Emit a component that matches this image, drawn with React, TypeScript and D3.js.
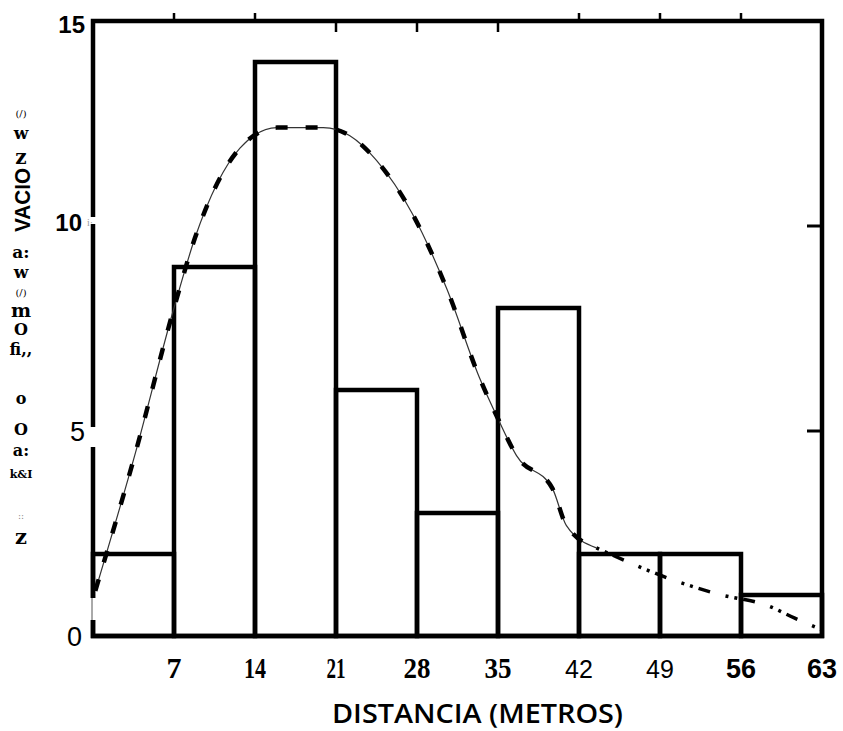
import React from "react";
import * as d3 from "d3";

// histogram: number of observations per 7 m distance class
const binStarts = [0, 7, 14, 21, 28, 35, 42, 49, 56];
const binWidth = 7;
const counts = [2, 9, 14, 6, 3, 8, 2, 2, 1];

// dashed fitted curve
const curveX = [0.2, 3.6, 7, 8.8, 12.7, 15.9, 19.9, 22.2, 24.5, 27.6, 30.6, 33.4, 35, 36.6, 39.7, 40.9, 43.5];
const curveY = [1.1, 4.4, 8.0, 9.7, 11.9, 12.4, 12.4, 12.2, 11.6, 10.3, 8.45, 6.3, 5.3, 4.4, 3.6, 2.7, 2.15];
// dotted tail of the curve
const tailX = [43.5, 50.1, 53.9, 58.4, 60.6, 63];
const tailY = [2.15, 1.37, 1.03, 0.73, 0.44, 0.15];

const xTicks = [7, 14, 21, 28, 35, 42, 49, 56, 63];
const yTicks = [0, 5, 10, 15];
const topTicksUp = [7, 14, 42, 49, 56];
const topTicksDown = [21, 28, 35];
const rightTicks = [5, 10];
const xTitle = "DISTANCIA  (METROS)";
// y title as it came out of the scan (garbled glyph stack)
const yGlyphs = ["(/)", "w", "z", "VACIO", "a:", "w", "(/)", "m", "O", "fi,,", "o", "O", "a:", "k&I", "::", "z"];

const W = 843;
const H = 731;

export default function App() {
  const x = d3.scaleLinear().domain([0, 63]).range([93, 822]);
  const y = d3.scaleLinear().domain([0, 15]).range([636, 21]);

  const line = d3
    .line<number>()
    .x((_, i) => x(curveX[i]))
    .y((v) => y(v))
    .curve(d3.curveMonotoneX);
  const tail = d3
    .line<number>()
    .x((_, i) => x(tailX[i]))
    .y((v) => y(v))
    .curve(d3.curveMonotoneX);

  // layout of the garbled glyph stack: [center y, size, bold, rotate]
  const glyphLayout: [number, number, boolean, boolean][] = [
    [113, 10, false, false],
    [133, 17, true, false],
    [157, 20, true, false],
    [200, 22, true, true],
    [252, 17, true, false],
    [272, 17, true, false],
    [292, 10, false, false],
    [310, 19, true, false],
    [329, 16, true, false],
    [349, 16, true, false],
    [398, 16, true, false],
    [429, 16, true, false],
    [450, 16, true, false],
    [474, 11, true, false],
    [516, 9, false, false],
    [536, 21, true, false]
  ];

  const serifTick = (t: number) => t <= 35;
  const boldTick = (t: number) => t <= 35 || t >= 56;

  return (
    <svg
      width={W}
      height={H}
      style={{ position: "absolute", left: 0, top: 0, background: "#fff" }}
    >
      {/* bars */}
      {binStarts.map((s, i) => (
        <rect
          key={s}
          x={x(s)}
          y={y(counts[i])}
          width={x(s + binWidth) - x(s)}
          height={y(0) - y(counts[i])}
          fill="none"
          stroke="#000"
          strokeWidth={4.5}
        />
      ))}

      {/* frame */}
      <path
        d={`M${x(0)},${y(0)}V${y(15)}H${x(63)}V${y(0)}Z`}
        fill="none"
        stroke="#000"
        strokeWidth={4.5}
      />
      {/* gaps in the scanned left axis */}
      <rect x={x(0) - 4} y={y(10) - 9} width={8} height={7} fill="#fff" />
      <rect x={x(0) - 4} y={y(5) - 4} width={8} height={20} fill="#fff" />
      <rect x={x(0) - 4} y={y(0) - 38} width={8} height={22} fill="#fff" />
      <line x1={x(0) - 1} x2={x(0) - 1} y1={y(0) - 38} y2={y(0) - 16} stroke="#555" strokeWidth={1} />

      {/* top ticks */}
      {topTicksUp.map((t) => (
        <line key={"u" + t} x1={x(t)} x2={x(t)} y1={y(15)} y2={y(15) - 8} stroke="#000" strokeWidth={2.5} />
      ))}
      {topTicksDown.map((t) => (
        <line key={"d" + t} x1={x(t)} x2={x(t)} y1={y(15)} y2={y(15) + 11} stroke="#000" strokeWidth={2.5} />
      ))}
      {/* right ticks */}
      {rightTicks.map((t) => (
        <line key={"r" + t} x1={x(63)} x2={x(63) - 15} y1={y(t)} y2={y(t)} stroke="#000" strokeWidth={3} />
      ))}

      {/* dashed curve */}
      <path d={line(curveY) || ""} fill="none" stroke="#333" strokeWidth={1.2} />
      <path d={line(curveY) || ""} fill="none" stroke="#000" strokeWidth={4.5} strokeDasharray="12 18" />
      <path d={tail(tailY) || ""} fill="none" stroke="#000" strokeWidth={3.5} strokeDasharray="3 6 3 6 12 16" />

      {/* y tick labels */}
      {yTicks.map((t) => (
        <text
          key={t}
          x={t % 10 === 5 ? 85 : 82}
          y={y(t) + (t === 15 ? 3 : t === 10 ? -4 : 1)}
          textAnchor="end"
          dominantBaseline="central"
          fontFamily="'Liberation Sans', Arial, sans-serif"
          fontWeight={t >= 10 ? 700 : 400}
          fontSize={t >= 10 ? 24 : 27}
          fill="#000"
        >
          {t}
        </text>
      ))}
      <text x={87} y={y(10) - 4} dominantBaseline="central" fontSize={10} fill="#999" fontFamily="serif">
        i·
      </text>

      {/* x tick labels */}
      {xTicks.map((t) => (
        <text
          key={t}
          x={x(t)}
          y={678}
          textAnchor="middle"
          fontFamily={serifTick(t) ? "'Liberation Serif', serif" : "'Liberation Sans', Arial, sans-serif"}
          fontWeight={boldTick(t) ? 700 : 400}
          fontSize={serifTick(t) ? 30 : t >= 56 ? 27 : 25}
          fill="#000"
          {...(serifTick(t) && t >= 10 ? { textLength: t === 21 ? 19 : t === 14 ? 22 : 27, lengthAdjust: "spacingAndGlyphs" } : {})}
        >
          {t}
        </text>
      ))}

      {/* x title */}
      <text
        x={332}
        y={723}
        fontFamily="'Open Sans', sans-serif"
        fontWeight={600}
        fontSize={27}
        textLength={291}
        lengthAdjust="spacingAndGlyphs"
        fill="#000"
      >
        {xTitle}
      </text>

      {/* garbled y title */}
      {yGlyphs.map((g, i) => {
        const [cy, size, bold, rot] = glyphLayout[i];
        return rot ? (
          <text
            key={i}
            transform={`translate(22,${cy}) rotate(-90)`}
            textAnchor="middle"
            dominantBaseline="central"
            fontFamily="'Liberation Sans', Arial, sans-serif"
            fontWeight={700}
            fontSize={size}
            textLength={64}
            lengthAdjust="spacingAndGlyphs"
            fill="#000"
          >
            {g}
          </text>
        ) : (
          <text
            key={i}
            x={21}
            y={cy}
            textAnchor="middle"
            dominantBaseline="central"
            fontFamily="'DejaVu Serif', serif"
            fontWeight={bold ? 700 : 400}
            fontSize={size}
            fill={size < 10 ? "#888" : "#000"}
          >
            {g}
          </text>
        );
      })}
    </svg>
  );
}
